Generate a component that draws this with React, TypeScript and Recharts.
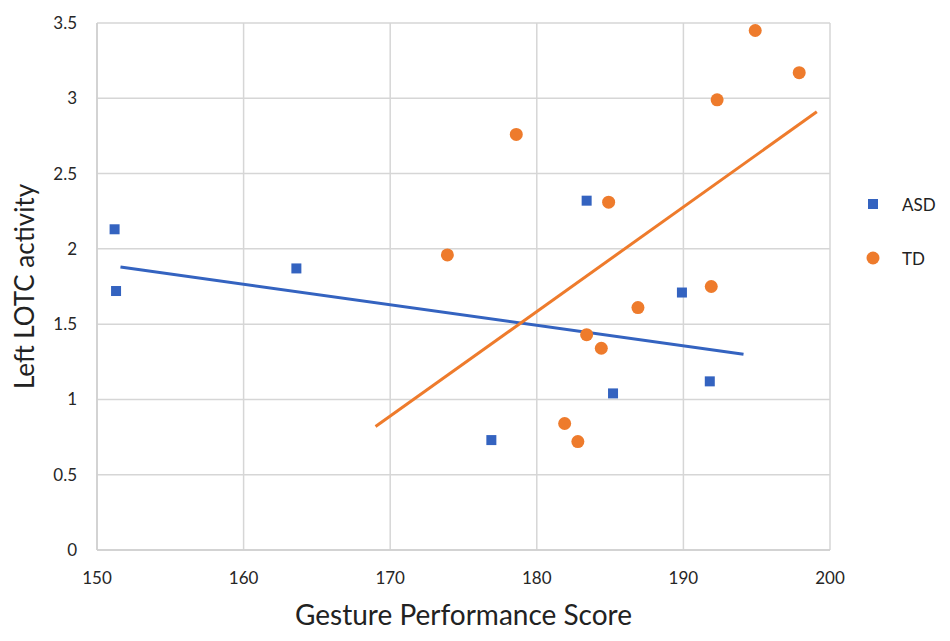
import {
  ScatterChart,
  Scatter,
  XAxis,
  YAxis,
  CartesianGrid,
  Legend,
} from 'recharts';

const asdScores = [151.2, 151.3, 163.6, 176.9, 183.4, 185.2, 189.9, 191.8];
const asdActivity = [2.13, 1.72, 1.87, 0.73, 2.32, 1.04, 1.71, 1.12];

const tdScores = [173.9, 178.6, 181.9, 182.8, 183.4, 184.4, 184.9, 186.9, 191.9, 192.3, 194.9, 197.9];
const tdActivity = [1.96, 2.76, 0.84, 0.72, 1.43, 1.34, 2.31, 1.61, 1.75, 2.99, 3.45, 3.17];

// trendline end points
const asdTrendScores = [151.6, 194.1];
const asdTrendActivity = [1.88, 1.3];
const tdTrendScores = [169.0, 199.1];
const tdTrendActivity = [0.82, 2.91];

const xTicks = [150, 160, 170, 180, 190, 200];
const yTicks = [0, 0.5, 1, 1.5, 2, 2.5, 3, 3.5];

const BLUE = '#3463c0';
const ORANGE = '#ee7b2c';
const FONT = 'Lato, "Open Sans", sans-serif';

const toPoints = (xs: number[], ys: number[]) => xs.map((x, i) => ({ x, y: ys[i] }));

const asdData = toPoints(asdScores, asdActivity);
const tdData = toPoints(tdScores, tdActivity);
const asdTrend = toPoints(asdTrendScores, asdTrendActivity);
const tdTrend = toPoints(tdTrendScores, tdTrendActivity);

const Square = (props: any) => {
  const { cx, cy, fill } = props;
  return <rect x={cx - 5} y={cy - 5} width={10} height={10} fill={fill} />;
};

const Dot = (props: any) => {
  const { cx, cy, fill } = props;
  return <circle cx={cx} cy={cy} r={6.5} fill={fill} />;
};

const NoShape = () => <g />;

const LegendBox = () => (
  <div style={{ fontFamily: FONT, fontSize: 17, color: '#222' }}>
    <div style={{ display: 'flex', alignItems: 'center', height: 26 }}>
      <svg width={14} height={14} style={{ marginRight: 22 }}>
        <rect x={2} y={2} width={10} height={10} fill={BLUE} />
      </svg>
      ASD
    </div>
    <div style={{ display: 'flex', alignItems: 'center', height: 26, marginTop: 28 }}>
      <svg width={14} height={14} style={{ marginRight: 22 }}>
        <circle cx={7} cy={7} r={6.5} fill={ORANGE} />
      </svg>
      TD
    </div>
  </div>
);

export default function App() {
  return (
    <div style={{ position: 'absolute', left: 0, top: 0, width: 950, height: 641, background: '#fff' }}>
      <ScatterChart
        width={950}
        height={641}
        margin={{ top: 23, right: 40, left: 0, bottom: 41 }}
      >
        <CartesianGrid stroke="#d6d6d6" strokeWidth={1.5} />
        <XAxis
          type="number"
          dataKey="x"
          domain={[150, 200]}
          ticks={xTicks}
          height={50}
          tickLine={false}
          tickSize={8}
          tickMargin={14}
          axisLine={{ stroke: '#cfcfcf', strokeWidth: 1.5 }}
          tick={{ fill: '#262626', fontSize: 17, fontFamily: FONT }}
          label={{
            content: (p: any) => (
              <text
                x={p.viewBox.x + p.viewBox.width / 2}
                y={p.viewBox.y + 75}
                textAnchor="middle"
                fontFamily={FONT}
                fontSize={28}
                fill="#222"
              >
                Gesture Performance Score
              </text>
            ),
          }}
        />
        <YAxis
          type="number"
          dataKey="y"
          domain={[0, 3.5]}
          ticks={yTicks}
          width={97}
          tickLine={false}
          tickSize={8}
          tickMargin={12}
          axisLine={{ stroke: '#cfcfcf', strokeWidth: 1.5 }}
          tick={{ fill: '#262626', fontSize: 17, fontFamily: FONT }}
          label={{
            content: (p: any) => {
              const x = p.viewBox.x + 24;
              const y = p.viewBox.y + p.viewBox.height / 2;
              return (
                <text
                  x={x}
                  y={y}
                  transform={`rotate(-90 ${x} ${y})`}
                  textAnchor="middle"
                  dominantBaseline="central"
                  fontFamily={FONT}
                  fontSize={26}
                  fill="#222"
                >
                  Left LOTC activity
                </text>
              );
            },
          }}
        />
        <Legend
          layout="vertical"
          verticalAlign="top"
          align="right"
          content={<LegendBox />}
          wrapperStyle={{ position: 'absolute', left: 866, top: 191, width: 80 }}
        />
        <Scatter
          name="ASDtrend"
          data={asdTrend}
          line={{ stroke: BLUE, strokeWidth: 3 }}
          shape={NoShape}
          legendType="none"
          isAnimationActive={false}
        />
        <Scatter
          name="TDtrend"
          data={tdTrend}
          line={{ stroke: ORANGE, strokeWidth: 3 }}
          shape={NoShape}
          legendType="none"
          isAnimationActive={false}
        />
        <Scatter name="ASD" data={asdData} fill={BLUE} shape={Square} isAnimationActive={false} />
        <Scatter name="TD" data={tdData} fill={ORANGE} shape={Dot} isAnimationActive={false} />
      </ScatterChart>
    </div>
  );
}
